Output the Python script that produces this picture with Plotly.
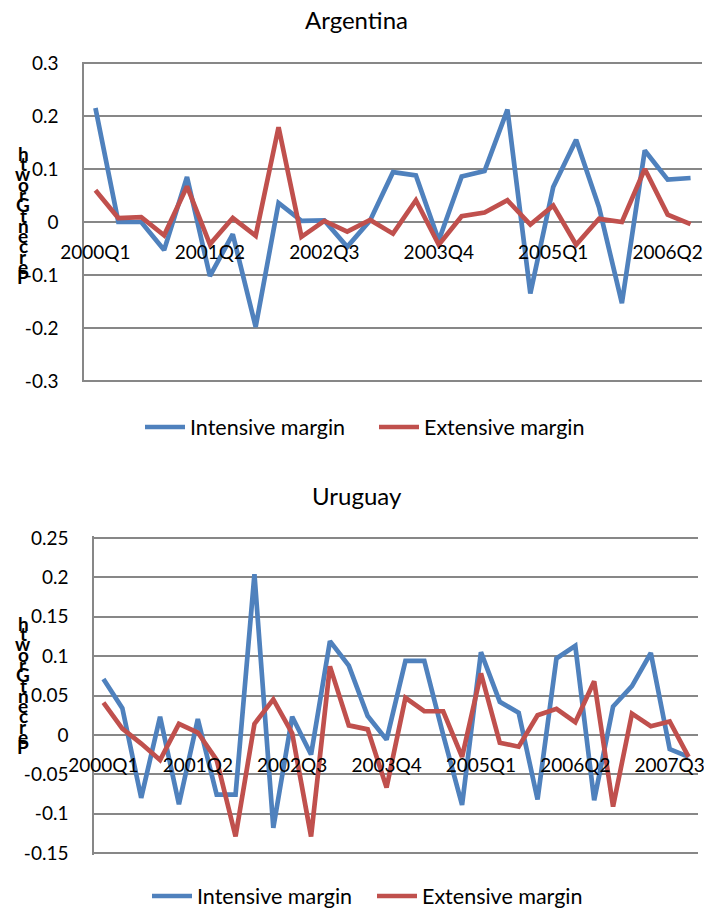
import plotly.graph_objects as go

W, H = 704, 910
FONT = "Lato"

# ---------------- data ----------------
arg_quarters = [f"{2000 + i // 4}Q{i % 4 + 1}" for i in range(27)]
uru_quarters = [f"{2000 + i // 4}Q{i % 4 + 1}" for i in range(32)]

arg_intensive = [0.215, 0.0, 0.0, -0.053, 0.085, -0.102, -0.023, -0.198, 0.036, 0.002,
                 0.003, -0.047, 0.003, 0.094, 0.088, -0.035, 0.086, 0.096, 0.212, -0.135,
                 0.066, 0.155, 0.028, -0.153, 0.135, 0.080, 0.083]
arg_extensive = [0.060, 0.0075, 0.009, -0.025, 0.067, -0.042, 0.0075, -0.026, 0.179, -0.028,
                 0.002, -0.018, 0.004, -0.022, 0.041, -0.043, 0.011, 0.018, 0.041, -0.005,
                 0.031, -0.043, 0.006, 0.0, 0.100, 0.014, -0.004]

uru_intensive = [0.071, 0.034, -0.080, 0.023, -0.088, 0.020, -0.076, -0.076, 0.204, -0.118,
                 0.023, -0.025, 0.119, 0.088, 0.024, -0.006, 0.094, 0.094, 0.0, -0.089,
                 0.105, 0.042, 0.028, -0.082, 0.097, 0.113, -0.083, 0.036, 0.062, 0.104,
                 -0.018, -0.028]
uru_extensive = [0.041, 0.008, -0.011, -0.032, 0.014, 0.003, -0.032, -0.129, 0.014, 0.045,
                 0.002, -0.129, 0.087, 0.012, 0.007, -0.067, 0.047, 0.030, 0.030, -0.028,
                 0.078, -0.010, -0.015, 0.025, 0.033, 0.016, 0.068, -0.091, 0.027, 0.011,
                 0.017, -0.028]

arg_xticks = ["2000Q1", "2001Q2", "2002Q3", "2003Q4", "2005Q1", "2006Q2"]
uru_xticks = ["2000Q1", "2001Q2", "2002Q3", "2003Q4", "2005Q1", "2006Q2", "2007Q3"]

arg_yticks = [-0.3, -0.2, -0.1, 0, 0.1, 0.2, 0.3]
arg_ytext = ["-0.3", "-0.2", "-0.1", "0", "0.1", "0.2", "0.3"]
uru_yticks = [-0.15, -0.1, -0.05, 0, 0.05, 0.1, 0.15, 0.2, 0.25]
uru_ytext = ["-0.15", "-0.1", "-0.05", "0", "0.05", "0.1", "0.15", "0.2", "0.25"]

series_names = ["Intensive margin", "Extensive margin"]
colors = ["#4F81BD", "#C0504D"]
ytitle = "Percent Growth"

# ---------------- figure ----------------
GRID = "#878787"
fig = go.Figure()

for ys, name, col in zip([arg_intensive, arg_extensive], series_names, colors):
    fig.add_trace(go.Scatter(x=arg_quarters, y=ys, name=name, mode="lines",
                             line=dict(color=col, width=4.7), xaxis="x", yaxis="y",
                             legend="legend"))
for ys, name, col in zip([uru_intensive, uru_extensive], series_names, colors):
    fig.add_trace(go.Scatter(x=uru_quarters, y=ys, name=name, mode="lines",
                             line=dict(color=col, width=4.7), xaxis="x2", yaxis="y2",
                             legend="legend2"))


def py(pix):
    return 1 - pix / H


def ydomain(top_px, bot_px, lo, hi, pad):
    scale = (bot_px - top_px) / (hi - lo)
    return [py(bot_px + pad * scale), py(top_px - pad * scale)], [lo - pad, hi + pad]


pad = 0.002
a_dom, a_rng = ydomain(63, 381, -0.3, 0.3, pad)
u_dom, u_rng = ydomain(538, 853, -0.15, 0.25, pad)

a_zero = a_dom[0] + (0 - a_rng[0]) / (a_rng[1] - a_rng[0]) * (a_dom[1] - a_dom[0])
u_zero = u_dom[0] + (0 - u_rng[0]) / (u_rng[1] - u_rng[0]) * (u_dom[1] - u_dom[0])

tickfont = dict(family=FONT, size=19, color="#000000")

common_x = dict(type="category", showgrid=False, showline=False, ticks="",
                tickfont=tickfont, anchor="free", ticklabelstandoff=17,
                fixedrange=True, automargin=False)
common_y = dict(showgrid=True, gridcolor=GRID, gridwidth=1.5, showline=True,
                linecolor=GRID, linewidth=1.5, zeroline=False, ticks="",
                tickfont=tickfont, ticklabelstandoff=20, automargin=False)

legfont = dict(family=FONT, size=21.5, color="#000000")

fig.update_layout(
    width=W, height=H,
    margin=dict(l=0, r=0, t=0, b=0, autoexpand=False),
    paper_bgcolor="white", plot_bgcolor="white",
    showlegend=True,
    xaxis=dict(common_x, domain=[84 / W, 702 / W], position=a_zero,
               range=[-0.5, len(arg_quarters) - 0.5],
               tickvals=arg_xticks, ticktext=arg_xticks),
    yaxis=dict(common_y, domain=a_dom, range=a_rng, anchor="x",
               tickvals=arg_yticks, ticktext=arg_ytext),
    xaxis2=dict(common_x, domain=[94 / W, 698 / W], position=u_zero,
                range=[-0.5, len(uru_quarters) - 0.5],
                tickvals=uru_xticks, ticktext=uru_xticks),
    yaxis2=dict(common_y, domain=u_dom, range=u_rng, anchor="x2",
                tickvals=uru_yticks, ticktext=uru_ytext),
    legend=dict(orientation="h", x=140 / W, xanchor="left", y=py(427), yanchor="middle",
                font=legfont, bgcolor="rgba(0,0,0,0)", itemwidth=40,
                entrywidth=179, entrywidthmode="pixels"),
    legend2=dict(orientation="h", x=147 / W, xanchor="left", y=py(896), yanchor="middle",
                 font=legfont, bgcolor="rgba(0,0,0,0)", itemwidth=40,
                 entrywidth=170, entrywidthmode="pixels"),
)

annotations = [
    dict(text="Argentina", x=356 / W, y=py(19), xref="paper", yref="paper",
         xanchor="center", yanchor="middle", showarrow=False,
         font=dict(family=FONT, size=24, color="#000000")),
    dict(text="Uruguay", x=357 / W, y=py(496), xref="paper", yref="paper",
         xanchor="center", yanchor="middle", showarrow=False,
         font=dict(family=FONT, size=24, color="#000000")),
]

# stacked (upright, bottom-to-top) axis titles as in the reference
letters = [c for c in ytitle if c != " "]
for center_px in (215, 685):
    n = len(letters)
    step = 10.3
    for i, ch in enumerate(letters):
        ypix = center_px + (n - 1) / 2 * step - i * step
        annotations.append(dict(text=f"<b>{ch}</b>", x=23 / W, y=py(ypix),
                                xref="paper", yref="paper", xanchor="center",
                                yanchor="middle", showarrow=False,
                                font=dict(family=FONT, size=19, color="#000000")))

fig.update_layout(annotations=annotations)

fig.write_html("out.html")
